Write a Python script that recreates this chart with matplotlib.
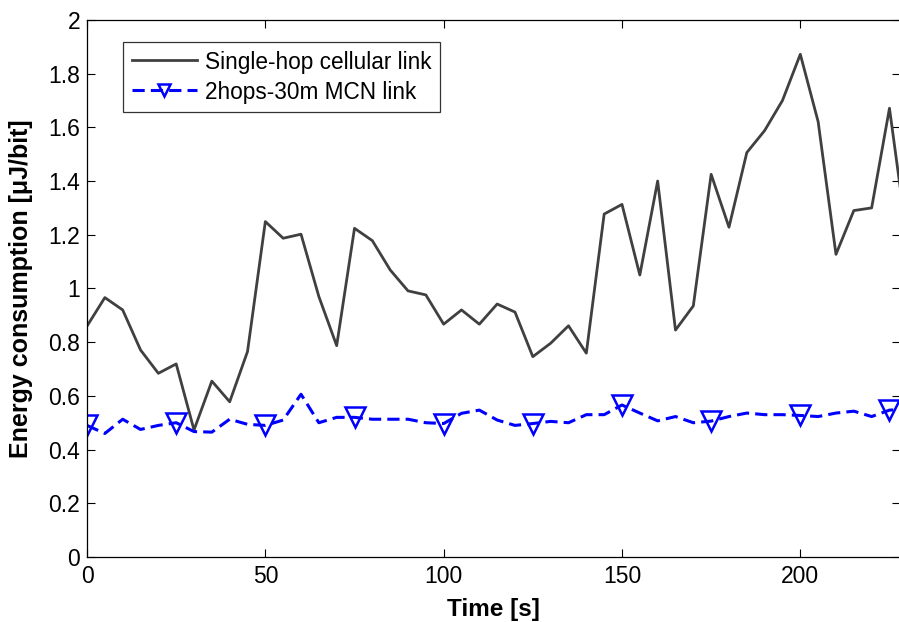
import numpy as np
import matplotlib
matplotlib.use("Agg")
import matplotlib.pyplot as plt

plt.rcParams["font.family"] = ["Liberation Sans", "DejaVu Sans"]

# tiempo [s]
tiempo = np.arange(0, 235, 5)

# enlace celular de un salto
single_hop = [0.86, 0.966, 0.92, 0.771, 0.684, 0.719, 0.473, 0.655, 0.578, 0.765,
              1.249, 1.187, 1.202, 0.97, 0.787, 1.224, 1.178, 1.069, 0.991, 0.976,
              0.867, 0.92, 0.867, 0.942, 0.912, 0.746, 0.796, 0.861, 0.759, 1.277,
              1.313, 1.05, 1.40, 0.845, 0.935, 1.425, 1.228, 1.506, 1.588, 1.70,
              1.872, 1.621, 1.127, 1.29, 1.30, 1.671, 1.18]

# enlace MCN 2 saltos - 30 m
mcn_2hops = [0.49, 0.46, 0.513, 0.475, 0.49, 0.50, 0.467, 0.465, 0.513, 0.494,
             0.49, 0.51, 0.606, 0.50, 0.52, 0.52, 0.513, 0.513, 0.513, 0.50,
             0.497, 0.535, 0.547, 0.51, 0.49, 0.497, 0.505, 0.50, 0.53, 0.53,
             0.566, 0.536, 0.507, 0.523, 0.50, 0.506, 0.523, 0.536, 0.53, 0.53,
             0.527, 0.523, 0.536, 0.543, 0.523, 0.547, 0.55]

yticks = np.arange(0, 2.01, 0.2)
ytick_labels = ["0", "0.2", "0.4", "0.6", "0.8", "1", "1.2", "1.4", "1.6", "1.8", "2"]


def main():
    fig = plt.figure(figsize=(8.99, 6.22), dpi=100)
    ax = fig.add_axes([0.0968, 0.1045, 0.9045, 0.8635])

    ax.plot(tiempo, single_hop, color="#404040", linewidth=2.0,
            label="Single-hop cellular link")
    ax.plot(tiempo, mcn_2hops, color="blue", linewidth=2.2, dashes=(4, 2),
            marker="v", markersize=14, markerfacecolor="none",
            markeredgecolor="blue", markeredgewidth=1.8, markevery=5,
            label="2hops-30m MCN link")

    ax.set_xlim(0, 228)
    ax.set_ylim(0, 2)
    ax.set_xticks([0, 50, 100, 150, 200])
    ax.set_yticks(yticks)
    ax.set_yticklabels(ytick_labels)
    ax.tick_params(direction="in", top=True, right=True, length=6,
                   labelsize=16.5, width=0.8)
    ax.tick_params(axis="x", pad=6)
    ax.tick_params(axis="y", pad=5)
    for s in ax.spines.values():
        s.set_linewidth(0.9)

    ax.set_xlabel("Time [s]", fontsize=17.5, fontweight="bold")
    ax.set_ylabel("Energy consumption [\u03bcJ/bit]", fontsize=18,
                  fontweight="bold")
    ax.xaxis.set_label_coords(0.5, -0.076)
    ax.yaxis.set_label_coords(-0.066, 0.5)

    leg = ax.legend(loc="upper left", bbox_to_anchor=(0.0443, 0.958),
                    fontsize=16.3, frameon=True, fancybox=False,
                    edgecolor="black", handlelength=2.9, borderpad=0.38,
                    labelspacing=0.3, handletextpad=0.35, borderaxespad=0,
                    markerscale=0.65, handleheight=0.9)
    leg.get_frame().set_linewidth(0.9)

    plt.savefig("out.png", dpi=100)


if __name__ == "__main__":
    main()
